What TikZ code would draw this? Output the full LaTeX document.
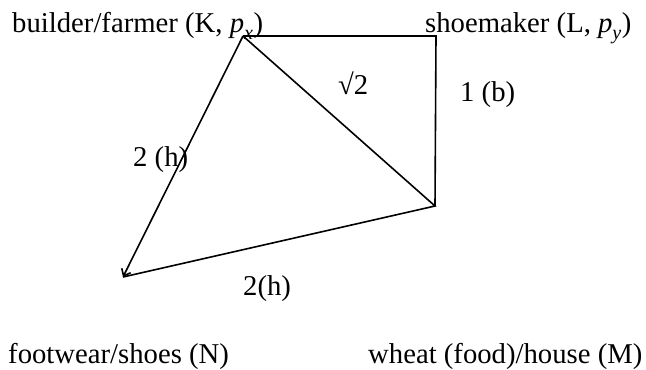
\documentclass[tikz,border=0pt]{standalone}
\usepackage{fontspec}
\usepackage{unicode-math}
\setmainfont{Liberation Serif}
\setmathfont{Latin Modern Math}
\setmathfont[range=it]{Liberation Serif Italic}
\usetikzlibrary{arrows.meta}
\tikzset{
  edge/.style={draw=black,line width=1.6bp},
  tip/.style={-{Straight Barb[length=6bp,width=10bp,line width=1.6bp]}},
  lbl/.style={anchor=base west,inner sep=0pt,font=\fontsize{28.7bp}{34bp}\selectfont},
}
\begin{document}
\begin{tikzpicture}[x=1bp,y=-1bp]
  \useasboundingbox (0,0) rectangle (646,369);
  % corners
  \coordinate (K) at (243,36);
  \coordinate (L) at (436,36);
  \coordinate (M) at (435,206);
  \coordinate (N) at (123,277);
  % sides
  \draw[edge] (K) -- (L) -- (M);
  \draw[edge] (K) -- (M) -- (N);
  \draw[edge,tip] (K) -- (N);
  % side labels
  \node[lbl] (kl) at (338,94) {√2};
  \node[lbl] (lm) at (460,101) {1 (b)};
  \node[lbl] (kn) at (133,166) {2 (h)};
  \node[lbl] (mn) at (243,295) {2(h)};
  % corner names
  \node[lbl] (farmer) at (12,32) {builder/farmer (K, $p_x$)};
  \node[lbl] (shoe) at (425,32) {shoemaker (L, $p_y$)};
  \node[lbl] (shoes) at (8,363) {footwear/shoes (N)};
  \node[lbl] (wheat) at (368,363) {wheat (food)/house (M)};
\end{tikzpicture}
\end{document}
